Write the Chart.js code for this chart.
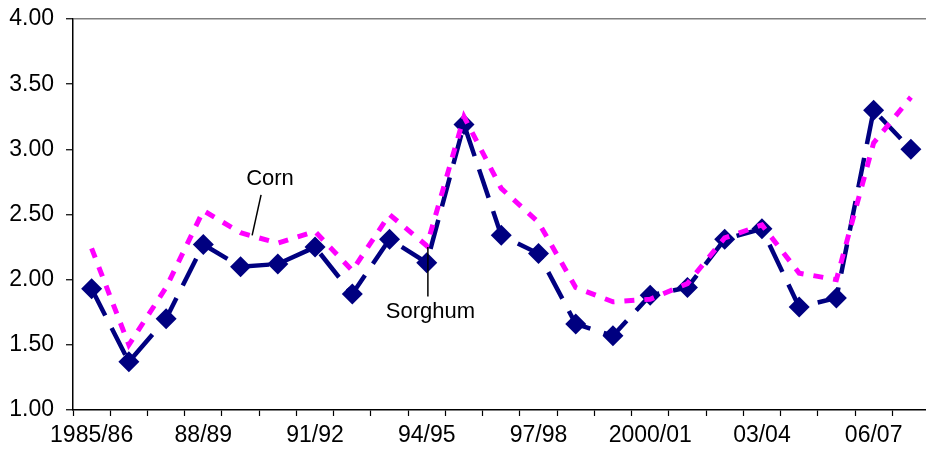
<!DOCTYPE html>
<html>
<head>
<meta charset="utf-8">
<script src="https://cdn.jsdelivr.net/npm/chart.js@4.4.1/dist/chart.umd.min.js"></script>
<style>
  html, body { margin: 0; padding: 0; background: #fff; overflow: hidden; }
  #wrap { width: 940px; height: 456px; }
</style>
</head>
<body>
<div id="wrap"><canvas id="priceChart" width="940" height="456"></canvas></div>
<script>
const seasons = ['1985/86', '86/87', '87/88', '88/89', '89/90', '90/91', '91/92', '92/93',
  '93/94', '94/95', '95/96', '96/97', '97/98', '98/99', '99/2000', '2000/01', '01/02',
  '02/03', '03/04', '04/05', '05/06', '06/07', '07/08'];
const sorghum = [1.93, 1.37, 1.70, 2.27, 2.10, 2.12, 2.25, 1.89, 2.31, 2.13, 3.19, 2.34,
  2.20, 1.66, 1.57, 1.88, 1.94, 2.31, 2.39, 1.79, 1.86, 3.30, 3.00];
const corn = [2.24, 1.50, 1.94, 2.53, 2.36, 2.28, 2.37, 2.07, 2.50, 2.26, 3.25, 2.70,
  2.44, 1.94, 1.83, 1.85, 1.97, 2.32, 2.42, 2.05, 2.00, 3.05, 3.40];
const yTicks = [1, 1.5, 2, 2.5, 3, 3.5, 4];

const FONT = 'Liberation Sans, Arial, sans-serif';

// text labels with leader lines, positioned in data units
const notes = [
  { text: 'Corn', at: [4.79, 2.77], line: [[4.55, 2.65], [4.31, 2.34]] },
  { text: 'Sorghum', at: [9.1, 1.75], line: [[9.03, 2.25], [9.03, 1.87]] }
];

const notePlugin = {
  id: 'notes',
  afterDatasetsDraw(chart) {
    const { ctx, scales: { x, y } } = chart;
    const step = x.getPixelForValue(1) - x.getPixelForValue(0);
    const px = i => x.getPixelForValue(0) + i * step;
    ctx.save();
    ctx.strokeStyle = '#000';
    ctx.lineWidth = 1.5;
    ctx.fillStyle = '#000';
    ctx.font = '22px ' + FONT;
    ctx.textAlign = 'center';
    ctx.textBaseline = 'middle';
    notes.forEach(n => {
      ctx.beginPath();
      ctx.moveTo(px(n.line[0][0]), y.getPixelForValue(n.line[0][1]));
      ctx.lineTo(px(n.line[1][0]), y.getPixelForValue(n.line[1][1]));
      ctx.stroke();
      ctx.fillText(n.text, px(n.at[0]), y.getPixelForValue(n.at[1]));
    });
    ctx.restore();
  }
};

const config = {
  type: 'line',
  data: {
    labels: seasons,
    datasets: [
      {
        label: 'Corn',
        data: corn,
        borderColor: '#FF00FF',
        borderWidth: 5,
        borderDash: [10, 10],
        pointRadius: 0,
        tension: 0,
        fill: false
      },
      {
        label: 'Sorghum',
        data: sorghum,
        borderColor: '#000080',
        backgroundColor: '#000080',
        borderWidth: 4.5,
        borderDash: [30, 14],
        pointStyle: 'rectRot',
        pointRadius: 10.5,
        pointBorderWidth: 0,
        pointBackgroundColor: '#000080',
        tension: 0,
        fill: false
      }
    ]
  },
  options: {
    responsive: false,
    animation: false,
    layout: { padding: { top: 19, right: 4.5, bottom: 0, left: 0 } },
    plugins: {
      legend: { display: false },
      tooltip: { enabled: false }
    },
    scales: {
      x: {
        offset: true,
        grid: {
          offset: true,
          drawOnChartArea: false,
          tickLength: 6,
          tickColor: '#000',
          tickWidth: 1.2
        },
        border: { color: '#000', width: 1.5 },
        ticks: {
          autoSkip: false,
          maxRotation: 0,
          padding: 6,
          color: '#000',
          font: { family: FONT, size: 23 },
          callback: (v, i) => (i % 3 === 0 ? seasons[i] : '')
        },
        afterFit: s => { s.height = 46; }
      },
      y: {
        min: 1,
        max: 4,
        afterBuildTicks: s => { s.ticks = yTicks.map(v => ({ value: v })); },
        grid: {
          color: c => (c.tick && c.tick.value === 4 ? '#808080' : 'rgba(0,0,0,0)'),
          lineWidth: 1.5,
          tickLength: 7,
          tickColor: '#000',
          tickWidth: 1.2
        },
        border: { color: '#000', width: 1.5 },
        ticks: {
          padding: 12,
          color: '#000',
          font: { family: FONT, size: 23 },
          callback: v => Number(v).toFixed(2)
        },
        afterFit: s => { s.width = 73; s.paddingTop = 0; s.paddingBottom = 0; }
      }
    }
  },
  plugins: [notePlugin]
};

const priceChart = new Chart(document.getElementById('priceChart'), config);
</script>
</body>
</html>
